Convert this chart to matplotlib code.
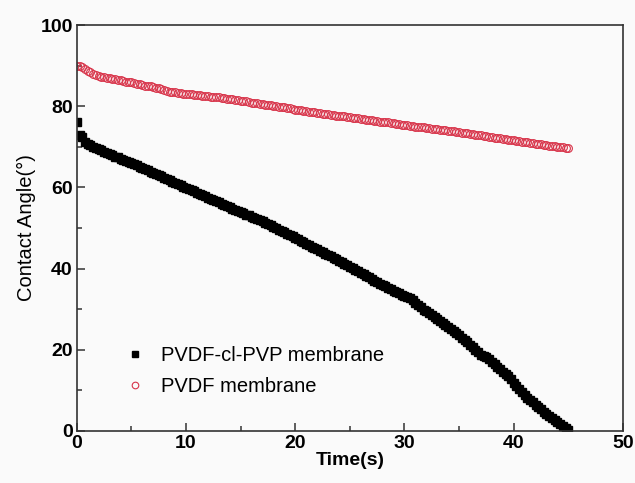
import numpy as np
import matplotlib
matplotlib.use("Agg")
import matplotlib.pyplot as plt
from matplotlib.ticker import MultipleLocator

# Time points (s), sampled every 0.25 s
time_s = np.arange(0, 45.001, 0.25)

# Contact angle (deg), one row per second
pvdf_cl_pvp = [76.0, 72.8, 72.4, 71.2,
               70.8, 70.4, 70.0, 69.7,
               69.4, 69.1, 68.8, 68.5,
               68.2, 67.9, 67.6, 67.4,
               67.1, 66.8, 66.5, 66.2,
               65.9, 65.7, 65.4, 65.1,
               64.8, 64.5, 64.2, 63.9,
               63.6, 63.3, 63.0, 62.7,
               62.4, 62.1, 61.8, 61.4,
               61.1, 60.8, 60.5, 60.2,
               59.9, 59.6, 59.3, 59.0,
               58.7, 58.4, 58.1, 57.8,
               57.5, 57.2, 56.9, 56.6,
               56.3, 56.0, 55.7, 55.4,
               55.1, 54.8, 54.5, 54.2,
               53.9, 53.6, 53.3, 53.1,
               52.8, 52.5, 52.2, 51.9,
               51.6, 51.3, 51.0, 50.7,
               50.3, 50.0, 49.6, 49.3,
               48.9, 48.6, 48.2, 47.9,
               47.5, 47.2, 46.8, 46.5,
               46.1, 45.8, 45.4, 45.1,
               44.7, 44.4, 44.0, 43.7,
               43.3, 43.0, 42.6, 42.3,
               41.9, 41.5, 41.1, 40.8,
               40.4, 40.1, 39.7, 39.3,
               38.9, 38.6, 38.2, 37.8,
               37.4, 37.0, 36.6, 36.3,
               35.9, 35.6, 35.2, 34.9,
               34.5, 34.2, 33.9, 33.6,
               33.3, 33.0, 32.7, 32.2,
               31.5, 31.0, 30.4, 29.9,
               29.5, 29.0, 28.6, 28.1,
               27.6, 27.1, 26.6, 26.1,
               25.6, 25.1, 24.6, 24.0,
               23.5, 23.0, 22.4, 21.8,
               21.2, 20.6, 20.0, 19.4,
               18.8, 18.5, 18.2, 17.6,
               17.0, 16.4, 15.8, 15.2,
               14.6, 14.0, 13.4, 12.7,
               11.9, 11.1, 10.3, 9.6,
               8.9, 8.2, 7.6, 7.0,
               6.4, 5.8, 5.3, 4.7,
               4.2, 3.7, 3.2, 2.7,
               2.2, 1.7, 1.2, 0.7,
               0.3]

pvdf = [90.0, 89.9, 89.7, 89.2,
        88.8, 88.4, 88.0, 87.7,
        87.5, 87.3, 87.1, 87.0,
        86.9, 86.7, 86.6, 86.5,
        86.4, 86.2, 86.1, 86.0,
        85.9, 85.7, 85.6, 85.4,
        85.3, 85.1, 85.0, 84.9,
        84.8, 84.6, 84.5, 84.2,
        84.0, 83.8, 83.6, 83.5,
        83.4, 83.3, 83.2, 83.1,
        83.1, 83.0, 82.9, 82.8,
        82.8, 82.7, 82.6, 82.5,
        82.5, 82.4, 82.4, 82.3,
        82.2, 82.1, 82.0, 81.9,
        81.8, 81.7, 81.6, 81.5,
        81.4, 81.3, 81.2, 81.0,
        80.9, 80.8, 80.7, 80.6,
        80.5, 80.4, 80.3, 80.2,
        80.1, 80.0, 79.9, 79.8,
        79.7, 79.6, 79.5, 79.3,
        79.2, 79.1, 79.0, 78.9,
        78.8, 78.7, 78.6, 78.5,
        78.4, 78.3, 78.2, 78.1,
        78.0, 77.9, 77.8, 77.7,
        77.6, 77.5, 77.5, 77.4,
        77.3, 77.2, 77.1, 77.0,
        76.9, 76.8, 76.7, 76.6,
        76.5, 76.4, 76.3, 76.2,
        76.1, 76.0, 76.0, 75.9,
        75.8, 75.7, 75.6, 75.5,
        75.4, 75.3, 75.2, 75.1,
        75.0, 74.9, 74.9, 74.8,
        74.7, 74.6, 74.5, 74.4,
        74.3, 74.2, 74.2, 74.1,
        74.0, 73.9, 73.8, 73.7,
        73.6, 73.5, 73.4, 73.3,
        73.2, 73.1, 73.0, 72.9,
        72.8, 72.7, 72.6, 72.5,
        72.4, 72.3, 72.2, 72.1,
        72.0, 71.9, 71.8, 71.7,
        71.6, 71.5, 71.4, 71.3,
        71.2, 71.1, 71.0, 70.9,
        70.8, 70.7, 70.6, 70.5,
        70.4, 70.3, 70.2, 70.1,
        70.0, 70.0, 69.9, 69.8,
        69.7]

labels = ["PVDF-cl-PVP membrane", "PVDF membrane"]

plt.rcParams['font.family'] = ['Liberation Sans', 'DejaVu Sans']

fig = plt.figure(figsize=(6.35, 4.83), dpi=100, facecolor="#fafafa")
ax = fig.add_axes([0.121, 0.108, 0.860, 0.840])
ax.set_facecolor("#fafafa")

ax.plot(time_s, pvdf_cl_pvp, linestyle="none", marker="s", markersize=5.4,
        color="black", label=labels[0])
ax.plot(time_s, pvdf, linestyle="none", marker="o", markersize=5.6,
        markerfacecolor="none", markeredgecolor="#d8344a", markeredgewidth=0.8,
        label=labels[1])

ax.set_xlim(0, 50)
ax.set_ylim(0, 100)
ax.xaxis.set_major_locator(MultipleLocator(10))
ax.xaxis.set_minor_locator(MultipleLocator(5))
ax.yaxis.set_major_locator(MultipleLocator(20))
ax.yaxis.set_minor_locator(MultipleLocator(10))
ax.tick_params(which="both", direction="in", top=False, right=False,
               labelsize=14, width=1.1, color="#333333")
ax.tick_params(which="major", length=6, pad=3)
ax.tick_params(which="minor", length=3.5)
for lab in ax.get_xticklabels() + ax.get_yticklabels():
    lab.set_fontweight("bold")
for sp in ax.spines.values():
    sp.set_linewidth(1.2)
    sp.set_color("#333333")

ax.set_xlabel("Time(s)", fontsize=14, fontweight="bold", labelpad=0)
ax.set_ylabel("Contact Angle(°)", fontsize=14.5, labelpad=3)

ax.legend(loc="lower left", bbox_to_anchor=(0.055, 0.04), frameon=False,
          fontsize=14.5, handletextpad=0.8, labelspacing=0.6,
          handlelength=1.0, markerscale=0.85)

fig.savefig("out.png", dpi=100, facecolor=fig.get_facecolor())
